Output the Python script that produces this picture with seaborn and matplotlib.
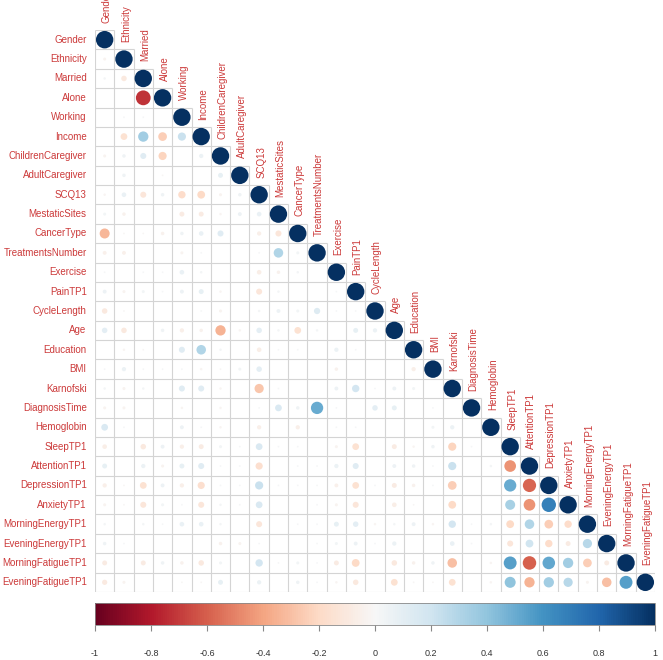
import numpy as np
import pandas as pd
import seaborn as sns
import matplotlib
matplotlib.use('Agg')
from matplotlib import pyplot as plt
from matplotlib.collections import EllipseCollection
from matplotlib.colors import ListedColormap, Normalize
import matplotlib.cm as cm

#Variable names (row / column order)
names = ['Gender', 'Ethnicity', 'Married', 'Alone', 'Working', 'Income',
         'ChildrenCaregiver', 'AdultCaregiver', 'SCQ13', 'MestaticSites',
         'CancerType', 'TreatmentsNumber', 'Exercise', 'PainTP1', 'CycleLength',
         'Age', 'Education', 'BMI', 'Karnofski', 'DiagnosisTime', 'Hemoglobin',
         'SleepTP1', 'AttentionTP1', 'DepressionTP1', 'AnxietyTP1',
         'MorningEnergyTP1', 'EveningEnergyTP1', 'MorningFatigueTP1',
         'EveningFatigueTP1']

#Lower triangle correlations, one list per row (columns left of the diagonal)
gender = []
ethnicity = [-0.03]
married = [0.02, -0.10]
alone = [0, 0, -0.72]
working = [0, 0.01, 0.01, 0]
income = [0, -0.15, 0.35, -0.25, 0.22]
children_caregiver = [-0.03, 0.04, 0.12, -0.22, 0, 0.06]
adult_caregiver = [0, 0.04, 0, -0.01, 0, 0, 0.08]
scq13 = [-0.02, 0.07, -0.12, 0.04, -0.18, -0.20, -0.03, 0.04]
mestatic_sites = [0.03, -0.04, 0, 0, -0.08, -0.08, -0.02, 0.05, 0.07]
cancer_type = [-0.33, -0.01, -0.01, -0.04, 0.04, 0.07, 0.12, 0, -0.06, -0.12]
treatments_number = [-0.05, -0.05, 0, 0, -0.03, 0.01, 0, 0, 0.01, 0.30, 0.03]
exercise = [0.01, 0, 0.01, 0.01, 0.07, 0.02, 0, 0, -0.07, -0.04, 0.02, 0]
pain = [0.05, -0.03, 0.03, 0.01, 0.05, 0.08, -0.02, 0, -0.12, 0.02, 0, 0, 0.01]
cycle_length = [-0.10, -0.01, 0, 0, 0, 0.01, -0.03, 0, 0.02, 0.05, 0.03, 0.13,
                0.01, 0.01]
age = [0.10, -0.10, 0, 0.04, -0.06, -0.04, -0.35, -0.02, 0.10, 0.02, -0.15,
       0.02, 0, 0.08, 0.06]
education = [0, -0.02, -0.01, 0, 0.12, 0.30, 0.02, 0, -0.07, 0.01, 0.01, 0,
             0.06, 0.01, 0, 0]
bmi = [0.01, 0.06, 0.01, 0.01, 0.01, -0.02, -0.01, 0.03, 0.10, 0, 0, 0, -0.04,
       0, 0, 0, -0.06]
karnofski = [0.02, -0.03, 0.02, 0, 0.12, 0.12, -0.02, 0, -0.28, 0.01, 0, 0,
             0.05, 0.18, 0.01, 0.05, 0.03, 0]
diagnosis_time = [-0.03, -0.03, 0, 0, -0.02, 0, -0.02, 0, 0.01, 0.15, 0.04,
                  0.50, 0.01, 0, 0.10, 0.08, 0, 0.01, 0]
hemoglobin = [0.15, 0.01, 0, 0, 0.05, 0.01, -0.02, 0, -0.06, 0, -0.06, 0, 0.01,
              0.01, 0, 0, 0, 0.03, 0.06, 0]
sleep = [-0.07, 0, -0.10, 0.05, -0.06, -0.08, 0.03, 0.01, 0.15, 0.01, 0.01, 0,
         -0.03, -0.15, 0, -0.08, -0.02, 0.04, -0.22, 0.01, 0]
attention = [0.08, 0, 0.06, -0.03, 0.08, 0.12, 0.01, 0.01, -0.17, 0, 0.01,
             0.01, 0.06, 0.12, 0, 0.05, 0.04, 0.01, 0.22, 0, 0.02, -0.45]
depression = [-0.06, -0.01, -0.15, 0.05, -0.06, -0.17, 0.01, 0.01, 0.22, 0.01,
              0.01, 0.01, -0.05, -0.15, 0.01, -0.08, -0.04, 0.01, -0.25, 0, 0,
              0.50, -0.58]
anxiety = [-0.03, -0.01, -0.12, 0.03, 0.01, -0.12, 0.02, 0.01, 0.15, 0, 0,
           0.01, -0.03, -0.12, 0, -0.07, -0.01, 0, -0.20, 0, 0, 0.33, -0.45,
           0.68]
morning_energy = [0.02, 0, 0.02, 0.01, 0.07, 0.07, 0.02, 0, -0.12, 0, 0.01,
                  0.01, 0.08, 0.10, -0.02, 0.02, 0.05, -0.02, 0.18, 0.01, 0.02,
                  -0.20, 0.30, -0.25, -0.18]
evening_energy = [0.04, 0.01, 0, 0, 0, 0, -0.04, -0.03, 0.01, 0, 0, 0.01, 0.03,
                  0.05, 0.01, 0.06, 0, 0, 0.07, 0.01, 0, -0.12, 0.20, -0.18,
                  -0.08, 0.28]
morning_fatigue = [-0.08, 0, -0.08, 0.04, -0.04, -0.10, 0.03, 0, 0.18, 0.01,
                   0.03, 0.01, -0.08, -0.20, 0, -0.10, -0.04, 0.04, -0.30, 0,
                   -0.02, 0.55, -0.60, 0.52, 0.35, -0.25, -0.08]
evening_fatigue = [-0.09, -0.03, 0, 0, -0.01, -0.01, 0.08, 0, 0.06, 0, 0.04,
                   0.01, -0.02, -0.10, 0, -0.15, -0.01, -0.01, -0.15, 0, -0.02,
                   0.40, -0.35, 0.35, 0.28, -0.03, -0.30, 0.55]

rows = [gender, ethnicity, married, alone, working, income, children_caregiver,
        adult_caregiver, scq13, mestatic_sites, cancer_type, treatments_number,
        exercise, pain, cycle_length, age, education, bmi, karnofski,
        diagnosis_time, hemoglobin, sleep, attention, depression, anxiety,
        morning_energy, evening_energy, morning_fatigue, evening_fatigue]

cbar_ticks = [-1, -0.8, -0.6, -0.4, -0.2, 0, 0.2, 0.4, 0.6, 0.8, 1]
cbar_labels = ['-1', '-0.8', '-0.6', '-0.4', '-0.2', '0', '0.2', '0.4', '0.6', '0.8', '1']

#Build full symmetric matrix
n = len(names)
corr = np.eye(n)
for i, row in enumerate(rows):
    corr[i, :len(row)] = row
    corr[:len(row), i] = row
df = pd.DataFrame(corr, index=names, columns=names)

label_col = '#cc3a3a'
grid_col = '#d4d4d4'
plt.rcParams['font.family'] = ['Liberation Sans', 'DejaVu Sans']

fig = plt.figure(figsize=(6.63, 6.60), dpi=100)
ax = fig.add_axes([95/663, 1-592/660, 560/663, 562/660])

#White cells for the lower triangle only (grid drawn below)
mask = np.triu(np.ones((n, n), dtype=bool), k=1)
sns.heatmap(df, mask=mask, cmap=ListedColormap(['white']), cbar=False,
            linewidths=0, ax=ax, xticklabels=False, yticklabels=True)

#Grid lines only around lower-triangle cells
for k in range(n + 1):
    ax.plot([0, min(k + 1, n)], [k, k], color=grid_col, lw=0.8, zorder=1,
            solid_capstyle='butt')
    ax.plot([k, k], [max(k - 1, 0), n], color=grid_col, lw=0.8, zorder=1,
            solid_capstyle='butt')

#Circles: area ~ |r|, colour from RdBu
cmap = plt.get_cmap('RdBu')
norm = Normalize(-1, 1)
ii, jj = np.tril_indices(n)
vals = corr[ii, jj]
d = 0.9 * np.sqrt(np.abs(vals))
ec = EllipseCollection(d, d, np.zeros_like(d), units='xy',
                       offsets=np.column_stack([jj + 0.5, ii + 0.5]),
                       offset_transform=ax.transData,
                       facecolors=cmap(norm(vals)), edgecolors='none',
                       zorder=2)
ax.add_collection(ec)
ax.set_xlim(0, n)
ax.set_ylim(n, 0)

ax.set_yticklabels(names, rotation=0, color=label_col, fontsize=7)
ax.tick_params(axis='y', length=0, pad=6)
ax.tick_params(axis='x', length=0)

#Column labels on the diagonal
for j, name in enumerate(names):
    ax.text(j + 0.6, j - 0.38, name, rotation=90, ha='center', va='bottom',
            color=label_col, fontsize=7, clip_on=False)

#Colour legend
cax = fig.add_axes([95/663, 1-625/660, 560/663, 22/660])
sm = cm.ScalarMappable(norm=norm, cmap=cmap)
cb = fig.colorbar(sm, cax=cax, orientation='horizontal', ticks=cbar_ticks)
cb.ax.set_xticklabels(cbar_labels)
cb.outline.set_edgecolor('#888888')
cb.outline.set_linewidth(0.6)
cax.tick_params(length=4, pad=13, labelsize=6.5, colors='#333333', color='#888888')

fig.savefig('out.png', dpi=100)
